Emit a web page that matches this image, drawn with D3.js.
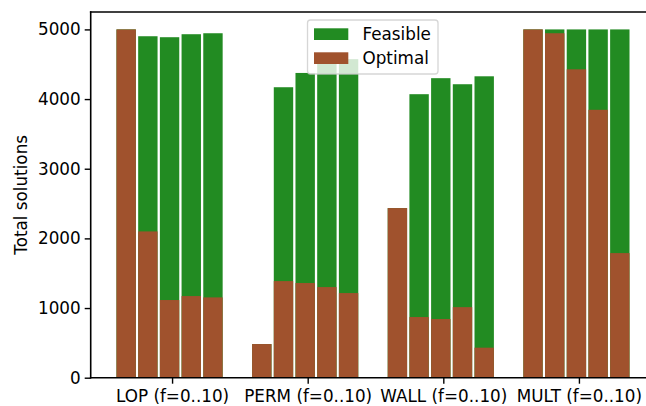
<!DOCTYPE html>
<html><head><meta charset="utf-8">
<script src="https://cdn.jsdelivr.net/npm/d3@7"></script>
<style>
html,body{margin:0;padding:0;background:#fff;}
svg{display:block;}
text{font-family:"DejaVu Sans",sans-serif;}
</style></head>
<body><svg id="c" width="646" height="406"></svg>
<script>
const categories = ["LOP (f=0..10)", "PERM (f=0..10)", "WALL (f=0..10)", "MULT (f=0..10)"];
const feasible = [
  [5000, 4902, 4888, 4931, 4945],
  [483, 4170, 4375, 4510, 4573],
  [2435, 4070, 4300, 4213, 4327],
  [5000, 5000, 5000, 5000, 5000]
];
const optimal = [
  [5000, 2100, 1115, 1172, 1153],
  [483, 1387, 1359, 1301, 1215],
  [2435, 871, 842, 1013, 431],
  [5000, 4945, 4427, 3846, 1789]
];
const yTicks = [0, 1000, 2000, 3000, 4000, 5000];
const seriesNames = ["Feasible", "Optimal"];
const colors = {Feasible: "#228B22", Optimal: "#A0522D"};

(function () {
const svg = d3.select("#c");
const fs = "16.8px";
const mL = 90.7, mR = 660.3, mT = 12, mB = 377.7;
const x = d3.scaleLinear().domain([-0.6, 3.6]).range([mL, mR]);
const y = d3.scaleLinear().domain([0, 5250]).range([mB, mT]);
const pitch = 0.16, bw = 0.143, off = -0.41;

function bars(data, cls, color) {
  const flat = [];
  data.forEach((g, gi) => g.forEach((v, j) => flat.push({gi, j, v})));
  svg.append("g").selectAll("rect." + cls).data(flat).join("rect")
    .attr("x", d => x(d.gi + off + d.j * pitch))
    .attr("width", x(bw) - x(0))
    .attr("y", d => y(d.v))
    .attr("height", d => y(0) - y(d.v))
    .attr("fill", color);
}
bars(feasible, "f", colors.Feasible);
bars(optimal, "o", colors.Optimal);

const ya = svg.append("g").attr("transform", `translate(${mL},0)`)
  .call(d3.axisLeft(y).tickValues(yTicks).tickSize(6).tickPadding(4).tickFormat(d3.format("d")));
ya.select(".domain").remove();
ya.selectAll("line").attr("stroke", "#000").attr("stroke-width", 1.4);
ya.selectAll("text").attr("font-size", fs).attr("fill", "#000").attr("font-family", "DejaVu Sans");

const xa = svg.append("g").attr("transform", `translate(0,${mB})`)
  .call(d3.axisBottom(x).tickValues(d3.range(categories.length)).tickSize(6).tickPadding(6.8)
    .tickFormat(i => categories[i]));
xa.select(".domain").remove();
xa.selectAll("line").attr("stroke", "#000").attr("stroke-width", 1.4);
xa.selectAll("text").attr("font-size", fs).attr("fill", "#000").attr("font-family", "DejaVu Sans");

svg.append("line").attr("x1", mL).attr("x2", mL).attr("y1", mT).attr("y2", mB)
  .attr("stroke", "#000").attr("stroke-width", 1.6).attr("stroke-linecap", "square");
svg.append("line").attr("x1", mL).attr("x2", mR).attr("y1", mT).attr("y2", mT)
  .attr("stroke", "#000").attr("stroke-width", 1.6).attr("stroke-linecap", "square");
svg.append("line").attr("x1", mL).attr("x2", mR).attr("y1", mB).attr("y2", mB)
  .attr("stroke", "#000").attr("stroke-width", 1.6).attr("stroke-linecap", "square");

svg.append("text").attr("transform", `translate(26.5,${(mT + mB) / 2}) rotate(-90)`)
  .attr("text-anchor", "middle").attr("font-size", fs).attr("fill", "#000")
  .text("Total solutions");

const lg = svg.append("g");
lg.append("rect").attr("x", 307.5).attr("y", 20).attr("width", 130.5).attr("height", 54).attr("rx", 3)
  .attr("fill", "#fff").attr("fill-opacity", 0.8).attr("stroke", "#cccccc").attr("stroke-opacity", 0.8).attr("stroke-width", 1.3);
seriesNames.forEach((s, i) => {
  lg.append("rect").attr("x", 314).attr("y", 28.3 + i * 24).attr("width", 34.3).attr("height", 11.7).attr("fill", colors[s]);
  lg.append("text").attr("x", 362.5).attr("y", 39.5 + i * 24).attr("font-size", fs).attr("fill", "#000").text(s);
});
})();
</script></body></html>
